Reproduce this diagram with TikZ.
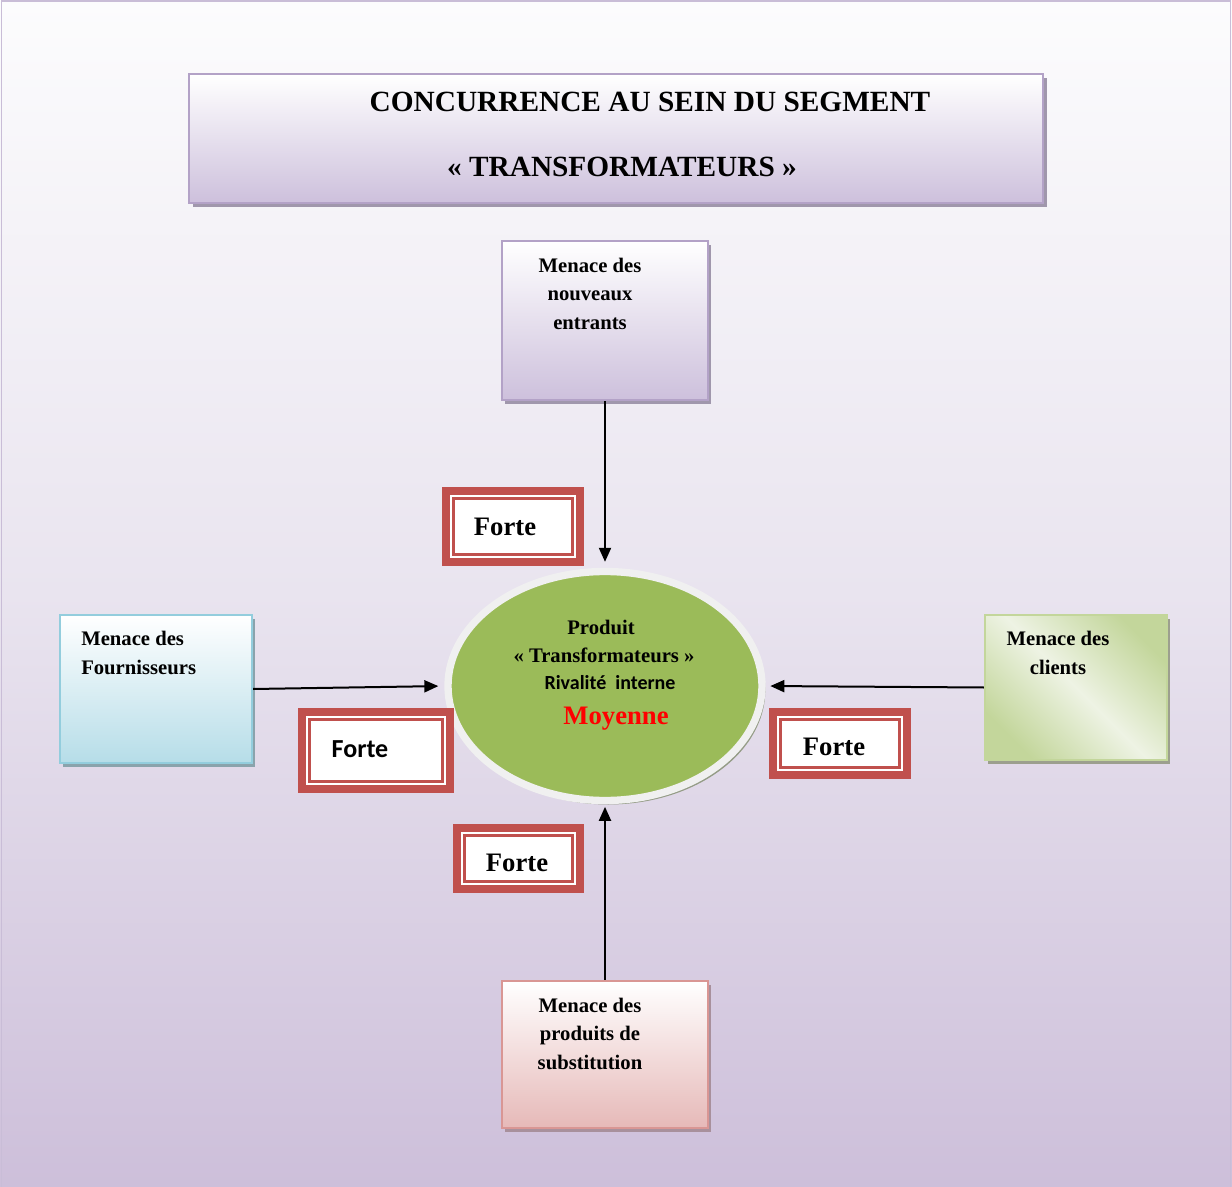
\documentclass[tikz,border=0pt]{standalone}
\usepackage{fontspec}
\setmainfont{Liberation Serif}
\newfontfamily\calib{Carlito}
\usetikzlibrary{shapes.geometric,shadows,arrows.meta}

\definecolor{bgtop}{HTML}{FCFCFD}
\definecolor{bgmid}{HTML}{E9E4EF}
\definecolor{bgbot}{HTML}{CDBFDA}
\definecolor{pageline}{HTML}{C9BDD7}
\definecolor{lilac}{HTML}{CDC0DC}
\definecolor{lilacline}{HTML}{B3A2C7}
\definecolor{lilacshadow}{HTML}{A097AC}
\definecolor{bluefill}{HTML}{B6DDE8}
\definecolor{blueline}{HTML}{93CDDD}
\definecolor{blueshadow}{HTML}{8AA3AC}
\definecolor{greendark}{HTML}{C3D69B}
\definecolor{greenlight}{HTML}{EEF3E4}
\definecolor{greenshadow}{HTML}{9C9F8E}
\definecolor{pinkfill}{HTML}{E6B9B8}
\definecolor{pinkline}{HTML}{D99694}
\definecolor{pinkshadow}{HTML}{A8909C}
\definecolor{olive}{HTML}{9BBB59}
\definecolor{ringwhite}{HTML}{F0F0F0}
\definecolor{ellshadow}{HTML}{949C86}
\definecolor{fred}{HTML}{C0504D}

\tikzset{
  card/.style={rectangle, inner sep=0pt, line width=1.6pt},
  boxtext/.style={font=\bfseries\fontsize{15.5}{21.4}\selectfont, inner sep=0pt, align=center},
  % thin inner frame on the node path, white gap, then a thick outer frame
  fortebox/.style={rectangle, inner sep=0pt, fill=white, draw=fred, line width=2pt,
    preaction={draw=fred, line width=17.5pt},
    preaction={draw=white, line width=5.5pt}},
  fortetext/.style={font=\bfseries\fontsize{20}{24}\selectfont, inner sep=0pt},
  conn/.style={line width=1.5pt, -{Triangle[length=10.5pt,width=9pt]}},
}

\begin{document}
\begin{tikzpicture}[x=0.75pt,y=-0.75pt]
\useasboundingbox (0,0) rectangle (1232,1187);

% page background and frame
\shade[top color=bgtop, bottom color=bgbot, middle color=bgmid] (0,0) rectangle (1232,1187);
\draw[pageline, line width=1.2pt] (1.5,1187) -- (1.5,1) -- (1230.5,1) -- (1230.5,1187);

% title panel
\node[card, draw=lilacline, top color=white, bottom color=lilac,
      drop shadow={opacity=1, fill=lilacshadow, shadow xshift=3pt, shadow yshift=-3pt},
      minimum width=640.5pt, minimum height=96.75pt] (title) at (616,138.5) {};
\node[font=\bfseries\fontsize{22}{26}\selectfont, inner sep=0pt] (title1) at (650,102) {CONCURRENCE AU SEIN DU SEGMENT};
\node[font=\bfseries\fontsize{22}{26}\selectfont, inner sep=0pt] (title2) at (622,167) {« TRANSFORMATEURS »};

% the four forces
\node[card, draw=lilacline, top color=white, bottom color=lilac,
      drop shadow={opacity=1, fill=lilacshadow, shadow xshift=2.5pt, shadow yshift=-3pt},
      minimum width=154.5pt, minimum height=119.25pt] (nouv) at (605,320.5) {};
\node[boxtext] (nouvtxt) at (590,293.5) {Menace des\\nouveaux\\entrants};

\node[card, draw=blueline, top color=white, bottom color=bluefill,
      drop shadow={opacity=1, fill=blueshadow, shadow xshift=2.5pt, shadow yshift=-3pt},
      minimum width=144pt, minimum height=111pt] (four) at (156,689) {};
\node[boxtext, align=left, anchor=west] (fourtxt) at (81,653) {Menace des\\Fournisseurs};

\node[card, draw=greendark, left color=greendark, right color=greendark, middle color=greenlight, shading angle=135,
      drop shadow={opacity=1, fill=greenshadow, shadow xshift=2.5pt, shadow yshift=-3pt},
      minimum width=136.5pt, minimum height=108.75pt] (cli) at (1076,687.5) {};
\node[boxtext] (clitxt) at (1058,653) {Menace des\\clients};

\node[card, draw=pinkline, top color=white, bottom color=pinkfill,
      drop shadow={opacity=1, fill=pinkshadow, shadow xshift=2.5pt, shadow yshift=-3pt},
      minimum width=154.5pt, minimum height=110.25pt] (subst) at (605,1054.5) {};
\node[boxtext] (substtxt) at (590,1033.5) {Menace des\\produits de\\substitution};

% central product
\node[ellipse, inner sep=0pt, fill=olive, draw=ringwhite, line width=5.5pt,
      drop shadow={opacity=1, fill=ellshadow, shadow xshift=2.5pt, shadow yshift=-3pt},
      minimum width=235.5pt, minimum height=171.75pt] (prod) at (605,686) {};
\node[boxtext] (prod1) at (601,627) {Produit};
\node[boxtext] (prod2) at (604,655) {« Transformateurs »};
\node[font=\calib\bfseries\fontsize{15}{18}\selectfont, inner sep=0pt] (prod3) at (610,683) {Rivalité\ \ interne};
\node[font=\bfseries\fontsize{20}{24}\selectfont, text={rgb,255:red,255;green,0;blue,0}, inner sep=0pt] (prod4) at (616,719) {Moyenne};

% connectors
\draw[conn, shorten >=4.5pt] (nouv.south) -- (prod.north);
\draw[conn, shorten >=4.5pt] (four.east) -- (prod.west);
\draw[conn, shorten >=3.5pt] (cli.west) -- (prod.east);
\draw[conn, shorten >=2pt] (subst.north) -- (prod.south);

% intensity tags
\node[fortebox, minimum width=89.25pt, minimum height=42pt] (ftop) at (513,526.5) {};
\node[fortetext] (ftoptxt) at (505,527) {Forte};

\node[fortebox, minimum width=99.75pt, minimum height=46.5pt] (fleft) at (376,750.5) {};
\node[fortetext, font=\calib\bfseries\fontsize{19.5}{24}\selectfont] (flefttxt) at (360,749) {Forte};

\node[fortebox, minimum width=89.25pt, minimum height=36pt] (fright) at (840,743.5) {};
\node[fortetext] (frighttxt) at (834,747) {Forte};

\node[fortebox, minimum width=81pt, minimum height=34.5pt] (fbot) at (518.5,858.5) {};
\node[fortetext] (fbottxt) at (517,863) {Forte};
\end{tikzpicture}
\end{document}
